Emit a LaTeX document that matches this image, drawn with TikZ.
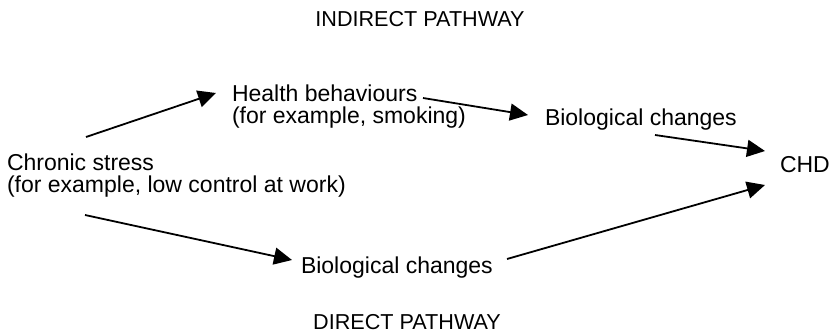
\documentclass[tikz,border=0pt]{standalone}
\usepackage{fontspec}
\setmainfont{Liberation Sans}
\usetikzlibrary{arrows.meta}
\begin{document}
\begin{tikzpicture}[x=1pt,y=-1pt,
  label/.style={inner sep=0pt,outer sep=0pt,anchor=base west,align=left,
    font=\fontsize{23}{21.5}\selectfont},
  heading/.style={inner sep=0pt,outer sep=0pt,anchor=base,
    font=\fontsize{21.6}{24}\selectfont},
  link/.style={line width=1.8pt,-{Triangle[length=18pt,width=17pt]}}]
\useasboundingbox (0,0) rectangle (830,332);

% headings
\node[heading] (indirect) at (420,27) {INDIRECT PATHWAY};
\node[heading] (direct) at (407,329) {DIRECT PATHWAY};

% factors (multi-line labels are anchored on their last line)
\node[label] (chronic) at (7,192) {Chronic stress\\(for example, low control at work)};
\node[label] (health) at (232,123) {Health behaviours\\(for example, smoking)};
\node[label] (bioA) at (545,125) {Biological changes};
\node[label] (chd) at (780,172) {CHD};
\node[label] (bioB) at (301,273) {Biological changes};

% indirect pathway
\draw[link] ([shift={(79,-55)}]chronic.base west) -- ([shift={(-16,-30)}]health.base west);
\draw[link] ([shift={(191,-25)}]health.base west) -- ([shift={(-17,-10)}]bioA.base west);
\draw[link] ([shift={(110,10)}]bioA.base west) -- ([shift={(-15,-21)}]chd.base west);

% direct pathway
\draw[link] ([shift={(78,23)}]chronic.base west) -- ([shift={(-9,-13)}]bioB.base west);
\draw[link] ([shift={(206,-14)}]bioB.base west) -- ([shift={(-15,13)}]chd.base west);
\end{tikzpicture}
\end{document}
